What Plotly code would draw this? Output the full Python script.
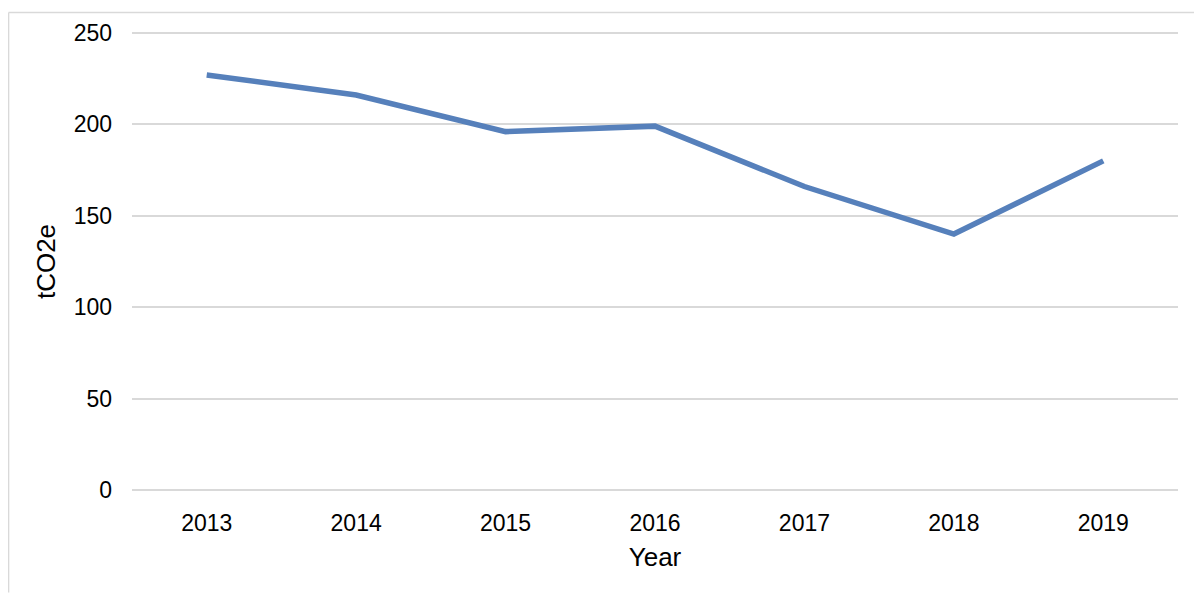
# line chart of yearly emissions
import plotly.graph_objects as go

years = ["2013", "2014", "2015", "2016", "2017", "2018", "2019"]
emissions = [227, 216, 196, 199, 166, 140, 180]
y_ticks = [0, 50, 100, 150, 200, 250]

font = "Liberation Sans, Arial, sans-serif"

fig = go.Figure(go.Scatter(
    x=years,
    y=emissions,
    mode="lines",
    line={"color": "#5680BB", "width": 5.5},
))

# faint border on the left and top edge (paper coords are relative to the plot area)
border = {"color": "#D9D9D9", "width": 1.5}
fig.add_shape(type="line", xref="paper", yref="paper",
              x0=-0.118, x1=-0.118, y0=-0.218, y1=1.04, line=border)
fig.add_shape(type="line", xref="paper", yref="paper",
              x0=-0.118, x1=1.016, y0=1.04, y1=1.04, line=border)

# the page body has an 8px margin, so the figure is a bit smaller than the window
fig.update_layout(
    width=1186, height=586,
    margin={"l": 124, "r": 16, "t": 19, "b": 102},
    paper_bgcolor="white", plot_bgcolor="white",
    font={"family": font, "size": 23, "color": "black"},
    showlegend=False,
)
fig.update_xaxes(
    type="category", range=[-0.5, 6.5], showgrid=False, showline=False,
    zeroline=False, ticks="", ticklabelstandoff=15,
    title={"text": "Year", "standoff": 12, "font": {"size": 26}},
)
fig.update_yaxes(
    range=[-1, 251], tickvals=y_ticks, showgrid=True, gridcolor="#D9D9D9",
    gridwidth=1.5, zeroline=False, showline=False, ticks="", ticklabelstandoff=19,
    title={"text": "tCO2e", "standoff": 10, "font": {"size": 26}},
)

fig.write_html("out.html")
